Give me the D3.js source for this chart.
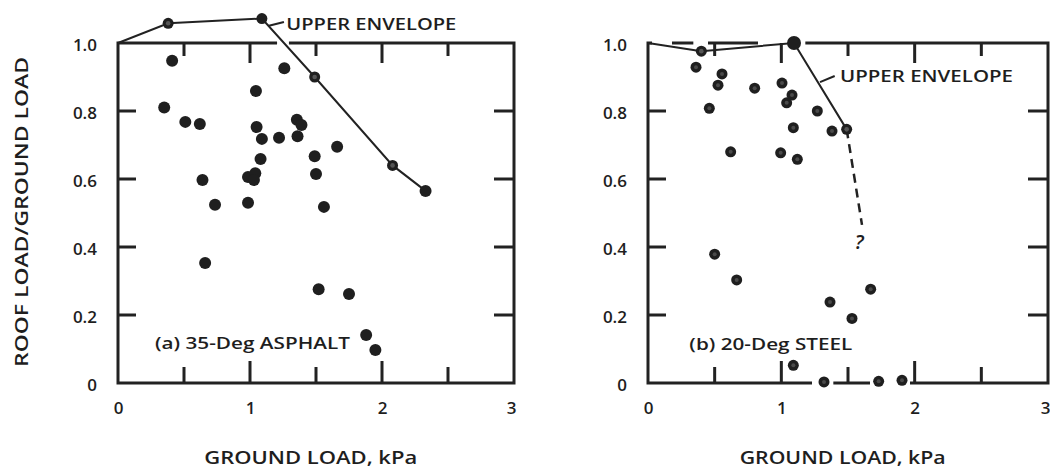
<!DOCTYPE html>
<html>
<head>
<meta charset="utf-8">
<script src="https://cdn.jsdelivr.net/npm/d3@7"></script>
<style>
    body { margin: 0; background: #fff; }
    svg text { font-family: "Open Sans", sans-serif; font-weight: 600; fill: #1e1e1e; }
</style>
</head>
<body>
<div id="chart"></div>
<script>
// tick values / labels
const xLabelValues = [0, 1, 2, 3];
const yTickValues = [0, 0.2, 0.4, 0.6, 0.8, 1.0];
const yTickLabels = ["0", "0.2", "0.4", "0.6", "0.8", "1.0"];

// (a) 35-Deg asphalt roofs: [ground load kPa, roof/ground ratio]
const asphaltPoints = [
    [0.41, 0.948], [0.35, 0.81], [0.51, 0.768], [0.62, 0.762], [1.045, 0.859],
    [1.26, 0.926], [1.05, 0.753], [1.355, 0.774], [1.39, 0.759], [1.09, 0.718],
    [1.22, 0.721], [1.36, 0.726], [1.66, 0.695], [1.08, 0.659], [1.49, 0.667],
    [0.64, 0.597], [0.985, 0.606], [1.04, 0.617], [1.03, 0.597], [1.50, 0.615],
    [0.735, 0.524], [0.985, 0.53], [1.56, 0.518], [0.66, 0.353], [1.52, 0.276],
    [1.75, 0.262], [1.88, 0.141], [1.95, 0.097]
];
const asphaltEnvelope = [[0, 1.0], [0.38, 1.058], [1.09, 1.072], [1.49, 0.90], [2.08, 0.64], [2.33, 0.565]];

// (b) 20-Deg steel roofs
const steelPoints = [
    [0.36, 0.929], [0.555, 0.909], [0.525, 0.876], [0.80, 0.867], [1.005, 0.882],
    [1.08, 0.847], [1.04, 0.824], [0.46, 0.808], [1.27, 0.80], [1.09, 0.751],
    [1.38, 0.741], [0.62, 0.68], [0.995, 0.677], [1.12, 0.658], [0.50, 0.379],
    [0.665, 0.303], [1.365, 0.238], [1.53, 0.19], [1.67, 0.276], [1.09, 0.052],
    [1.32, 0.003], [1.73, 0.005], [1.905, 0.008]
];
const steelEnvelope = [[0, 1.0], [0.40, 0.976], [1.095, 1.0], [1.49, 0.746]];
const steelEnvelopeDashed = [[1.49, 0.746], [1.605, 0.465]];

const width = 1050, height = 470;
const svg = d3.select("#chart").append("svg")
    .attr("width", width)
    .attr("height", height);

const yScale = d3.scaleLinear().domain([0, 1]).range([383, 43]);

function drawPanel(cfg) {
    const x = d3.scaleLinear().domain([0, 3]).range([cfg.left, cfg.right]);
    const y = yScale;
    const g = svg.append("g");
    const line = d3.line().x(d => x(d[0])).y(d => y(d[1]));

    // frame and inward ticks as one path
    const p = d3.path();
    p.moveTo(x(0), y(0) + 1.5); p.lineTo(x(0), y(1) - 1.5);
    p.moveTo(x(3), y(0) + 1.5); p.lineTo(x(3), y(1) - 1.5);
    cfg.topSegments.forEach(s => { p.moveTo(x(s[0]), y(1)); p.lineTo(x(s[1]), y(1)); });
    cfg.bottomSegments.forEach(s => { p.moveTo(x(s[0]), y(0)); p.lineTo(x(s[1]), y(0)); });
    x.ticks(6).filter(v => v > 0 && v < 3).forEach(v => {
        const major = Math.abs(v - Math.round(v)) < 1e-6;
        p.moveTo(x(v), y(0)); p.lineTo(x(v), y(0) - (major ? 22 : 16));
        p.moveTo(x(v), y(1)); p.lineTo(x(v), y(1) + (major ? 20 : 13));
    });
    y.ticks(5).filter(v => v > 0.01 && v < 0.99).forEach(v => {
        p.moveTo(x(0), y(v)); p.lineTo(x(0) + 18, y(v));
        p.moveTo(x(3), y(v)); p.lineTo(x(3) - 20, y(v));
    });
    g.append("path")
        .attr("d", p.toString())
        .attr("fill", "none")
        .attr("stroke", "#222")
        .attr("stroke-width", 3);

    // tick labels
    const xl = g.append("g").attr("transform", `translate(0,${y(0)})`)
        .call(d3.axisBottom(x).tickValues(xLabelValues).tickFormat(d3.format("d")).tickSize(0).tickPadding(19));
    xl.select(".domain").remove();
    xl.selectAll("text").style("font-size", "17px").attr("fill", "#1e1e1e")
        .attr("dx", d => d === 3 ? "-3" : null);

    const yl = g.append("g").attr("transform", `translate(${x(0)},0)`)
        .call(d3.axisLeft(y).tickValues(yTickValues).tickFormat((d, i) => yTickLabels[i]).tickSize(0).tickPadding(21));
    yl.select(".domain").remove();
    yl.selectAll("text").style("font-size", "17px").attr("fill", "#1e1e1e").attr("dy", "0.45em");

    // x title
    g.append("text")
        .attr("x", x(1.46)).attr("y", 457)
        .attr("text-anchor", "middle").attr("dominant-baseline", "central")
        .attr("textLength", cfg.titleLength).attr("lengthAdjust", "spacingAndGlyphs")
        .style("font-size", "18px")
        .text("GROUND LOAD, kPa");

    // envelope
    g.append("path").datum(cfg.envelope)
        .attr("d", line).attr("fill", "none").attr("stroke", "#222").attr("stroke-width", 2);
    if (cfg.dashed) {
        g.append("path").datum(cfg.dashed)
            .attr("d", line).attr("fill", "none").attr("stroke", "#222")
            .attr("stroke-width", 2.5).attr("stroke-dasharray", "9,6");
    }

    // scatter points
    g.selectAll(".pt").data(cfg.points).enter().append("circle")
        .attr("class", "pt")
        .attr("cx", d => x(d[0])).attr("cy", d => y(d[1]))
        .attr("r", cfg.r).attr("fill", "#1f1f1f");
    if (cfg.halftone) {
        g.selectAll(".pt-in").data(cfg.points).enter().append("circle")
            .attr("class", "pt-in")
            .attr("cx", d => x(d[0])).attr("cy", d => y(d[1]))
            .attr("r", 2).attr("fill", "#4a4a4a");
    }

    // envelope markers
    cfg.envelopeMarks.forEach(m => {
        const d = cfg.envelope[m.i];
        g.append("circle").attr("cx", x(d[0])).attr("cy", y(d[1])).attr("r", m.r).attr("fill", "#1f1f1f");
        if (m.inner) g.append("circle").attr("cx", x(d[0])).attr("cy", y(d[1])).attr("r", 2.3).attr("fill", "#555");
    });

    // annotations
    g.append("line")
        .attr("x1", x(cfg.leader[0][0])).attr("y1", y(cfg.leader[0][1]))
        .attr("x2", x(cfg.leader[1][0])).attr("y2", y(cfg.leader[1][1]))
        .attr("stroke", "#222").attr("stroke-width", 2);
    g.append("text")
        .attr("x", x(cfg.envText[0])).attr("y", y(cfg.envText[1]))
        .attr("dominant-baseline", "central")
        .attr("textLength", cfg.envLength).attr("lengthAdjust", "spacingAndGlyphs")
        .style("font-size", "17px")
        .text("UPPER ENVELOPE");
    g.append("text")
        .attr("x", x(cfg.labelPos[0])).attr("y", y(cfg.labelPos[1]))
        .attr("dominant-baseline", "central")
        .attr("textLength", cfg.labelLength).attr("lengthAdjust", "spacingAndGlyphs")
        .style("font-size", "17px")
        .text(cfg.label);
    if (cfg.question) {
        g.append("text")
            .attr("x", x(cfg.question[0])).attr("y", y(cfg.question[1]))
            .attr("text-anchor", "middle").attr("dominant-baseline", "central")
            .style("font-size", "20px").style("font-style", "italic")
            .text("?");
    }
}

drawPanel({
    left: 118, right: 514,
    points: asphaltPoints, r: 6, halftone: false,
    envelope: asphaltEnvelope,
    envelopeMarks: [{ i: 1, r: 5.5, inner: true }, { i: 2, r: 5.5 }, { i: 3, r: 5.5, inner: true },
        { i: 4, r: 5.5, inner: true }, { i: 5, r: 6 }],
    topSegments: [[0, 1.205], [1.295, 3]],
    bottomSegments: [[0, 3]],
    leader: [[1.136, 1.05], [1.257, 1.062]],
    envText: [1.275, 1.058], envLength: 170,
    label: "(a) 35-Deg ASPHALT", labelPos: [0.28, 0.12], labelLength: 195,
    titleLength: 213
});

drawPanel({
    left: 648, right: 1048,
    points: steelPoints, r: 5.5, halftone: true,
    envelope: steelEnvelope, dashed: steelEnvelopeDashed,
    envelopeMarks: [{ i: 1, r: 5.5, inner: true }, { i: 2, r: 7 }, { i: 3, r: 5.5, inner: true }],
    topSegments: [[0, 0.03], [0.18, 0.34], [0.45, 0.825], [1.18, 3]],
    bottomSegments: [[0, 1.23], [1.39, 1.665], [1.965, 3]],
    leader: [[1.29, 0.885], [1.40, 0.903]],
    envText: [1.44, 0.903], envLength: 173,
    label: "(b) 20-Deg STEEL", labelPos: [0.31, 0.115], labelLength: 163,
    question: [1.583, 0.415],
    titleLength: 206
});

// shared y title
svg.append("text")
    .attr("transform", "translate(21,212) rotate(-90)")
    .attr("text-anchor", "middle").attr("dominant-baseline", "central")
    .attr("textLength", 310).attr("lengthAdjust", "spacingAndGlyphs")
    .style("font-size", "18px")
    .text("ROOF LOAD/GROUND LOAD");
</script>
</body>
</html>
